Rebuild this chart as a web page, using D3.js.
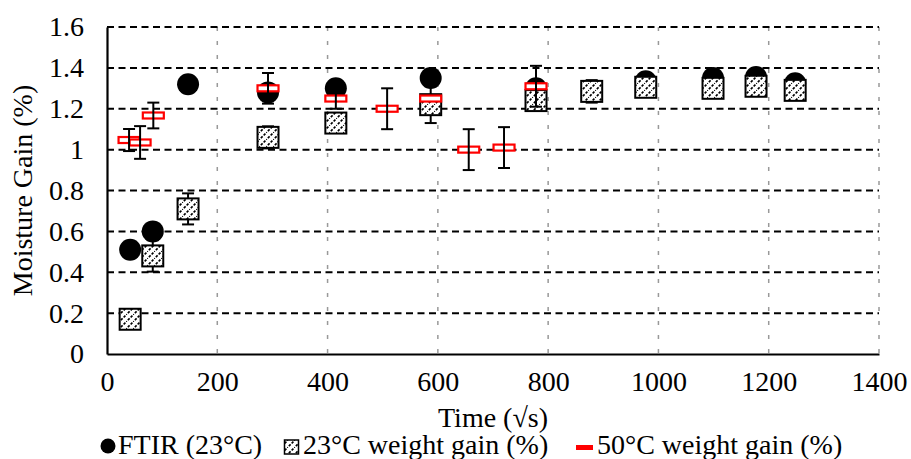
<!DOCTYPE html>
<html>
<head>
<meta charset="utf-8">
<script src="https://cdn.jsdelivr.net/npm/d3@7"></script>
<style>
  body { margin: 0; background: #fff; }
  text { font-family: "Liberation Serif", "Times New Roman", serif; fill: #000; }
</style>
</head>
<body>
<script>
// data
const ftirX = [42, 83, 147, 292, 415, 587, 778, 977, 1099, 1177, 1248];
const ftirY = [0.51, 0.60, 1.32, 1.28, 1.30, 1.35, 1.30, 1.335, 1.35, 1.355, 1.325];

const w23X = [42, 83, 147, 292, 415, 587, 778, 879, 977, 1099, 1177, 1248];
const w23Y = [0.17, 0.48, 0.71, 1.06, 1.13, 1.22, 1.24, 1.285, 1.305, 1.30, 1.31, 1.29];
const w23Err = [0, 0.077, 0.076, 0.054, 0, 0.09, 0, 0.055, 0, 0, 0, 0];

const w50X = [40, 60, 84, 292, 415, 508, 587, 656, 720, 778];
const w50Y = [1.047, 1.035, 1.167, 1.30, 1.25, 1.20, 1.25, 1.00, 1.01, 1.31];
const w50Err = [0.054, 0.08, 0.063, 0.075, 0.05, 0.10, 0, 0.10, 0.10, 0.10];

const xTicks = [0, 200, 400, 600, 800, 1000, 1200, 1400];
const yTicks = [0, 0.2, 0.4, 0.6, 0.8, 1, 1.2, 1.4, 1.6];
const legendLabels = ["FTIR (23°C)", "23°C weight gain (%)", "50°C weight gain (%)"];

const W = 911, H = 459;
const svg = d3.select('body').append('svg')
  .attr('width', W)
  .attr('height', H);

const x = d3.scaleLinear().domain([0, 1400]).range([107, 879]);
const y = d3.scaleLinear().domain([0, 1.6]).range([354, 27]);
const FS = 28;

// hatch pattern for the 23°C squares
const defs = svg.append('defs');
const pat = defs.append('pattern')
  .attr('id', 'hatch')
  .attr('patternUnits', 'userSpaceOnUse')
  .attr('width', 7).attr('height', 7);
pat.append('rect').attr('width', 7).attr('height', 7).attr('fill', '#fff');
pat.append('path')
  .attr('d', 'M-1,8 L8,-1')
  .attr('stroke', '#000')
  .attr('stroke-width', 1.6)
  .attr('stroke-dasharray', '2.5,1.5');

// vertical grid (grey, short dashes)
svg.append('g').selectAll('line')
  .data(xTicks.slice(1))
  .enter().append('line')
  .attr('x1', d => x(d)).attr('x2', d => x(d))
  .attr('y1', y(1.6)).attr('y2', y(0))
  .attr('stroke', '#999')
  .attr('stroke-width', 1.5)
  .attr('stroke-dasharray', '4,10');

// horizontal grid (black dashes)
svg.append('g').selectAll('line')
  .data(yTicks.slice(1))
  .enter().append('line')
  .attr('x1', x(0)).attr('x2', x(1400))
  .attr('y1', d => y(d)).attr('y2', d => y(d))
  .attr('stroke', '#000')
  .attr('stroke-width', 2)
  .attr('stroke-dasharray', '7,4.5');

// axes
const xAxis = svg.append('g')
  .attr('transform', `translate(0,${y(0)})`)
  .call(d3.axisBottom(x).tickValues(xTicks).tickSize(0).tickSizeOuter(0).tickPadding(17).tickFormat(d3.format('d')));
const yAxis = svg.append('g')
  .attr('transform', `translate(${x(0)},0)`)
  .call(d3.axisLeft(y).tickValues(yTicks).tickSize(0).tickSizeOuter(0).tickPadding(23).tickFormat(d3.format('~g')));
[xAxis, yAxis].forEach(a => {
  a.select('.domain').attr('stroke', '#000').attr('stroke-width', 2.2);
  a.selectAll('text')
    .style('font-family', '"Liberation Serif", serif')
    .style('font-size', FS + 'px')
    .attr('fill', '#000');
});

// axis titles
svg.append('text')
  .attr('x', (x(0) + x(1400)) / 2)
  .attr('y', 427)
  .attr('text-anchor', 'middle')
  .style('font-size', FS + 'px')
  .text('Time (√s)');
svg.append('text')
  .attr('transform', `translate(32,${(y(0) + y(1.6)) / 2}) rotate(-90)`)
  .attr('text-anchor', 'middle')
  .style('font-size', FS + 'px')
  .text('Moisture Gain (%)');

// error bars
function errorBars(xs, ys, es) {
  const g = svg.append('g').attr('stroke', '#000').attr('stroke-width', 2);
  xs.forEach((xv, i) => {
    if (!es[i]) return;
    const cx = x(xv), y1 = y(ys[i] + es[i]), y2 = y(ys[i] - es[i]);
    g.append('line').attr('x1', cx).attr('x2', cx).attr('y1', y1).attr('y2', y2);
    g.append('line').attr('x1', cx - 6).attr('x2', cx + 6).attr('y1', y1).attr('y2', y1);
    g.append('line').attr('x1', cx - 6).attr('x2', cx + 6).attr('y1', y2).attr('y2', y2);
  });
}

// FTIR circles
svg.append('g').selectAll('circle')
  .data(d3.zip(ftirX, ftirY))
  .enter().append('circle')
  .attr('cx', d => x(d[0]))
  .attr('cy', d => y(d[1]))
  .attr('r', 11)
  .attr('fill', '#000');

// 23°C squares
errorBars(w23X, w23Y, w23Err);
svg.append('g').selectAll('rect')
  .data(d3.zip(w23X, w23Y))
  .enter().append('rect')
  .attr('x', d => x(d[0]) - 10.5)
  .attr('y', d => y(d[1]) - 10.5)
  .attr('width', 21).attr('height', 21)
  .attr('fill', 'url(#hatch)')
  .attr('stroke', '#000')
  .attr('stroke-width', 2);

// 50°C red outlined dashes, error bar showing through
svg.append('g').selectAll('rect')
  .data(d3.zip(w50X, w50Y))
  .enter().append('rect')
  .attr('x', d => x(d[0]) - 10.5)
  .attr('y', d => y(d[1]) - 3)
  .attr('width', 21).attr('height', 6)
  .attr('fill', '#fff')
  .attr('stroke', '#ff0000')
  .attr('stroke-width', 2.2);
errorBars(w50X, w50Y, w50Err);

// legend
const leg = svg.append('g');
leg.append('circle').attr('cx', 108).attr('cy', 446).attr('r', 7.5).attr('fill', '#000');
leg.append('rect').attr('x', 284.5).attr('y', 440).attr('width', 14).attr('height', 14)
  .attr('fill', 'url(#hatch)').attr('stroke', '#000').attr('stroke-width', 1.5);
leg.append('rect').attr('x', 576).attr('y', 445).attr('width', 17).attr('height', 5).attr('fill', '#ff0000');
[118, 303, 597].forEach((lx, i) => {
  leg.append('text')
    .attr('x', lx).attr('y', 454)
    .style('font-size', FS + 'px')
    .text(legendLabels[i]);
});
</script>
</body>
</html>
